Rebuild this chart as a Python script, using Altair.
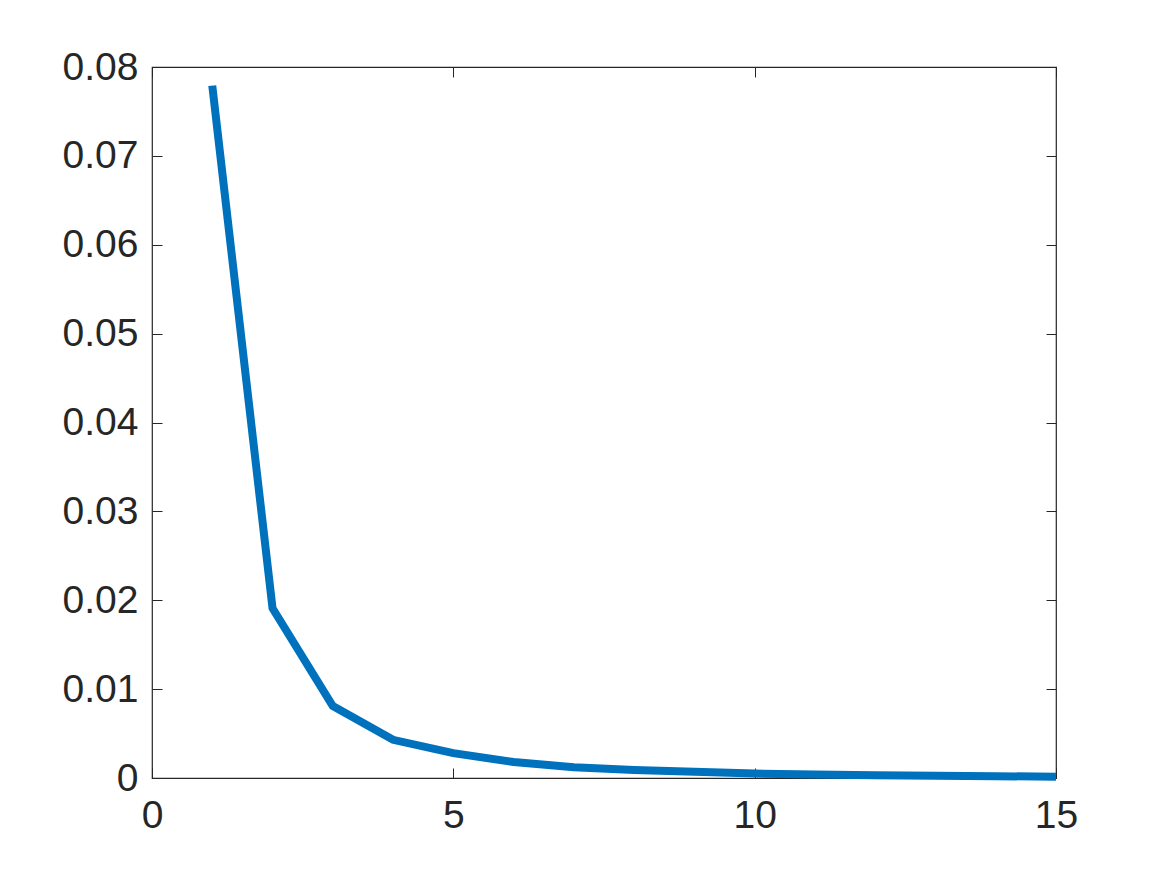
import altair as alt
import pandas as pd

x_vals = [1, 2, 3, 4, 5, 6, 7, 8, 9, 10, 11, 12, 13, 14, 15]
y_vals = [0.0779, 0.0191, 0.0081, 0.0043, 0.0028, 0.0018, 0.0012, 0.0009,
          0.0007, 0.0005, 0.0004, 0.0003, 0.00025, 0.0002, 0.00015]
x_ticks = [0, 5, 10, 15]
y_ticks = [0, 0.01, 0.02, 0.03, 0.04, 0.05, 0.06, 0.07, 0.08]

df = pd.DataFrame({"x": x_vals, "y": y_vals})

FONT = "Liberation Sans"
LBL = 39
TK = 10
INK = "#262626"

xscale = alt.Scale(domain=[0, 15], nice=False, zero=False)
yscale = alt.Scale(domain=[0, 0.08], nice=False, zero=False)

main = alt.Chart(df).mark_line(color="#0072BD", strokeWidth=8, strokeCap="butt", strokeJoin="miter").encode(
    x=alt.X("x:Q", scale=xscale, axis=alt.Axis(
        orient="bottom", values=x_ticks, title=None, domain=False, grid=False,
        tickSize=TK, offset=-TK, tickColor=INK, tickWidth=1, labelFlush=False,
        labelFont=FONT, labelFontSize=LBL, labelColor=INK, labelPadding=18,
        format="d")),
    y=alt.Y("y:Q", scale=yscale, axis=alt.Axis(
        orient="left", values=y_ticks, title=None, domain=False, grid=False,
        tickSize=TK, offset=-TK, tickColor=INK, tickWidth=1, labelFlush=False,
        labelFont=FONT, labelFontSize=LBL, labelColor=INK, labelPadding=14,
        labelExpr="datum.value == 0 ? '0' : format(datum.value, '.2f')")),
)

mirror = alt.Chart(df).mark_line(opacity=0).encode(
    x=alt.X("x:Q", scale=xscale, axis=alt.Axis(
        orient="top", values=x_ticks, title=None, domain=False, grid=False,
        tickSize=TK, offset=-TK, tickColor=INK, labels=False)),
    y=alt.Y("y:Q", scale=yscale, axis=alt.Axis(
        orient="right", values=y_ticks, title=None, domain=False, grid=False,
        tickSize=TK, offset=-TK, tickColor=INK, labels=False)),
)

chart = alt.layer(main, mirror).resolve_scale(x="independent", y="independent").properties(
    width=904, height=711,
    background="white",
    autosize=alt.AutoSizeParams(type="none"),
    padding={"left": 144, "top": 59, "right": 80, "bottom": 80},
).configure_view(stroke=INK, strokeWidth=1.2)

chart.save("out.html", embed_options={"renderer": "svg", "actions": False})
